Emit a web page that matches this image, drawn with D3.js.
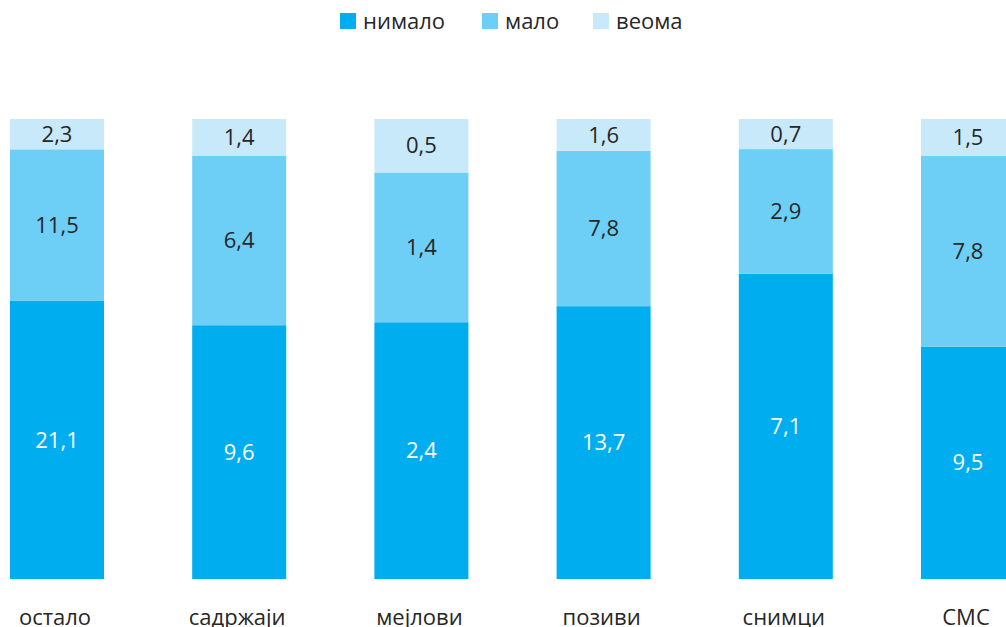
<!DOCTYPE html>
<html>
<head>
<meta charset="utf-8">
<script src="https://cdn.jsdelivr.net/npm/d3@7"></script>
<style>
  body { margin: 0; background: #fff; }
  svg { display: block; font-family: "Open Sans", "Noto Sans", sans-serif; }
</style>
</head>
<body>
<div id="chart"></div>
<script>
// Categories and series (values as printed in the chart)
const categories = ["остало", "садржаји", "мејлови", "позиви", "снимци", "СМС"];
const seriesNames = ["нимало", "мало", "веома"];
const nimalo = [21.1, 9.6, 2.4, 13.7, 7.1, 9.5];
const malo = [11.5, 6.4, 1.4, 7.8, 2.9, 7.8];
const veoma = [2.3, 1.4, 0.5, 1.6, 0.7, 1.5];

const colors = ["#00adee", "#6dcff6", "#c7e9f9"];
const labelColors = ["#ffffff", "#262626", "#262626"];

const width = 1006, height = 627;

const svg = d3.select("#chart").append("svg")
    .attr("width", width)
    .attr("height", height);

// rows for the stack
const rows = categories.map((c, i) => ({
    cat: c,
    "нимало": nimalo[i],
    "мало": malo[i],
    "веома": veoma[i]
}));

const stacked = d3.stack()
    .keys(seriesNames)
    .offset(d3.stackOffsetExpand)(rows);

const x = d3.scaleBand()
    .domain(categories)
    .range([10, 1015])
    .paddingInner(0.484)
    .paddingOuter(0);

const y = d3.scaleLinear()
    .domain([0, 1])
    .range([579, 119]);

const fmt = v => String(v).replace(".", ",");

const layers = svg.selectAll(".layer")
    .data(stacked)
    .enter().append("g")
    .attr("class", "layer")
    .attr("fill", (d, i) => colors[i]);

layers.selectAll("rect")
    .data(d => d)
    .enter().append("rect")
    .attr("x", d => x(d.data.cat))
    .attr("y", d => y(d[1]))
    .attr("width", x.bandwidth())
    .attr("height", d => y(d[0]) - y(d[1]));

// value labels in the middle of each segment
stacked.forEach((layer, li) => {
    svg.append("g").selectAll("text")
        .data(layer)
        .enter().append("text")
        .attr("x", d => x(d.data.cat) + x.bandwidth() / 2)
        .attr("y", d => (y(d[0]) + y(d[1])) / 2)
        .attr("dy", "0.35em")
        .attr("text-anchor", "middle")
        .attr("font-size", 22)
        .attr("fill", labelColors[li])
        .text(d => fmt(d.data[layer.key]));
});

// category axis (no line, no ticks)
const xAxis = svg.append("g")
    .attr("transform", "translate(-2,579)")
    .call(d3.axisBottom(x).tickSize(0).tickPadding(30));
xAxis.select(".domain").remove();
xAxis.selectAll("text")
    .attr("font-family", "\"Open Sans\", \"Noto Sans\", sans-serif")
    .attr("font-size", 22)
    .attr("fill", "#262626");

// legend
const legendX = [340, 482, 593];
const legend = svg.append("g");
seriesNames.forEach((name, i) => {
    const g = legend.append("g").attr("transform", `translate(${legendX[i]},13)`);
    g.append("rect").attr("width", 16).attr("height", 16).attr("fill", colors[i]);
    g.append("text")
        .attr("x", 23)
        .attr("y", 8)
        .attr("dy", "0.35em")
        .attr("font-size", 22)
        .attr("fill", "#262626")
        .text(name);
});
</script>
</body>
</html>
